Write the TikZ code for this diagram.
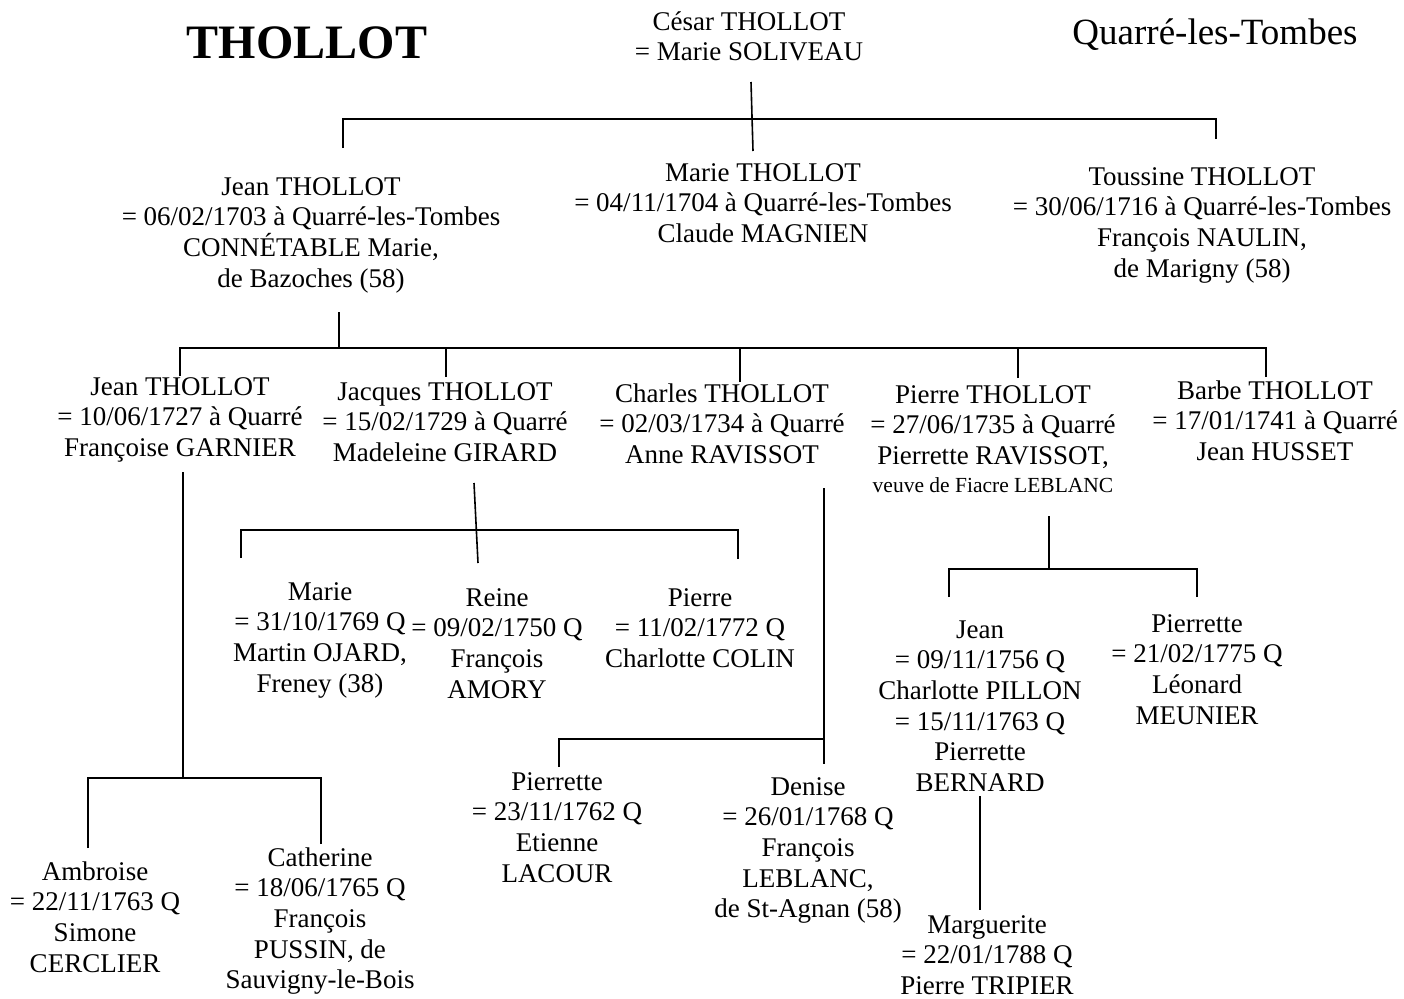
\documentclass[tikz,border=0pt]{standalone}
\usepackage{fontspec}
\setmainfont{Liberation Serif}
\usetikzlibrary{calc}
\tikzset{
    % persons (placed at the baseline of their last line)
    person/.style={anchor=base, align=center, inner sep=0pt,
                   font=\fontsize{27}{30.7}\selectfont},
    % header
    titletext/.style={anchor=base, inner sep=0pt, font=\fontsize{48}{50}\selectfont\bfseries},
    placetext/.style={anchor=base, inner sep=0pt, font=\fontsize{37}{40}\selectfont},
    % lines of descent
    link/.style={line width=1.6pt},
}
\newcommand{\smallnote}[1]{{\fontsize{21.5}{26}\selectfont #1}}

\begin{document}
\begin{tikzpicture}[x=1pt,y=-1pt]
\useasboundingbox (0,0) rectangle (1404,998);

\node[titletext] (title) at (307,59) {THOLLOT};
\node[placetext] (place) at (1215,45) {Quarré-les-Tombes};

\node[person] (cesar) at (749,60.7) {César THOLLOT\\= Marie SOLIVEAU};

% second generation
\node[person] (jean1)    at (311,287.1)  {Jean THOLLOT\\= 06/02/1703 à Quarré-les-Tombes\\CONNÉTABLE Marie,\\de Bazoches (58)};
\node[person] (marie1)   at (763,242.4)  {Marie THOLLOT\\= 04/11/1704 à Quarré-les-Tombes\\Claude MAGNIEN};
\node[person] (toussine) at (1202,277.1) {Toussine THOLLOT\\= 30/06/1716 à Quarré-les-Tombes\\François NAULIN,\\de Marigny (58)};

% third generation
\node[person] (jean2)   at (180,456.4)  {Jean THOLLOT\\= 10/06/1727 à Quarré\\Françoise GARNIER};
\node[person] (jacques) at (445,461.4)  {Jacques THOLLOT\\= 15/02/1729 à Quarré\\Madeleine GIRARD};
\node[person] (charles) at (722,463.4)  {Charles THOLLOT\\= 02/03/1734 à Quarré\\Anne RAVISSOT};
\node[person] (pierre1) at (993,492.4)  {Pierre THOLLOT\\= 27/06/1735 à Quarré\\Pierrette RAVISSOT,\\[-2.7pt]\smallnote{veuve de Fiacre LEBLANC}};
\node[person] (barbe)   at (1275,460.4) {Barbe THOLLOT\\= 17/01/1741 à Quarré\\Jean HUSSET};

% children of Jacques
\node[person] (marie2)  at (320,692.1) {Marie\\= 31/10/1769 Q\\Martin OJARD,\\Freney (38)};
\node[person] (reine)   at (497,698.1) {Reine\\= 09/02/1750 Q\\François\\AMORY};
\node[person] (pierre2) at (700,667.4) {Pierre\\= 11/02/1772 Q\\Charlotte COLIN};

% children of Charles
\node[person] (pierrette1) at (557,882.1) {Pierrette\\= 23/11/1762 Q\\Etienne\\LACOUR};
\node[person] (denise)     at (808,917.8) {Denise\\= 26/01/1768 Q\\François\\LEBLANC,\\de St-Agnan (58)};

% children of Pierre
\node[person] (jean3)      at (980,791.5)  {Jean\\= 09/11/1756 Q\\Charlotte PILLON\\= 15/11/1763 Q\\Pierrette\\BERNARD};
\node[person] (pierrette2) at (1197,724.1) {Pierrette\\= 21/02/1775 Q\\Léonard\\MEUNIER};
\node[person] (marguerite) at (987,994.5)  {Marguerite\\= 22/01/1788 Q\\Pierre TRIPIER};

% children of Jean
\node[person] (ambroise)  at (95,972.1)  {Ambroise\\= 22/11/1763 Q\\Simone\\CERCLIER};
\node[person] (catherine) at (320,988.8) {Catherine\\= 18/06/1765 Q\\François\\PUSSIN, de\\Sauvigny-le-Bois};

% César -> Jean, Marie, Toussine
\coordinate (c0) at (751,82);
\coordinate (c0b) at (752,119);
\coordinate (c0e) at (753,151);
\coordinate (t0a) at (343,148);
\coordinate (t0b) at (1216,139);
\draw[link] (c0) -- (c0e);
\draw[link] (t0a) |- (c0b);
\draw[link] (t0b) |- (c0b);

% Jean -> five children
\coordinate (c1) at (339,312);
\coordinate (c1b) at (339,348);
\coordinate (t1a) at (180,376);
\coordinate (t1b) at (446,377);
\coordinate (t1c) at (740,382);
\coordinate (t1d) at (1018,378);
\coordinate (t1e) at (1266,377);
\draw[link] (c1) -- (c1b);
\foreach \t in {t1a,t1b,t1c,t1d,t1e}
    \draw[link] (\t) |- (c1b);

% Jean (1727) -> Ambroise, Catherine
\coordinate (c2) at (183,472);
\coordinate (c2b) at (183,778);
\coordinate (t2a) at (88,848);
\coordinate (t2b) at (321,844);
\draw[link] (c2) -- (c2b);
\draw[link] (t2a) |- (c2b);
\draw[link] (t2b) |- (c2b);

% Jacques -> Marie, Reine, Pierre
\coordinate (c3) at (474,483);
\coordinate (c3b) at (476,530);
\coordinate (c3e) at (478,563);
\coordinate (t3a) at (241,558);
\coordinate (t3b) at (738,559);
\draw[link] (c3) -- (c3e);
\draw[link] (t3a) |- (c3b);
\draw[link] (t3b) |- (c3b);

% Charles -> Pierrette, Denise
\coordinate (c4) at (824,488);
\coordinate (c4b) at (824,739);
\coordinate (c4e) at (824,764);
\coordinate (t4a) at (559,767);
\draw[link] (c4) -- (c4e);
\draw[link] (t4a) |- (c4b);

% Pierre -> Jean, Pierrette
\coordinate (c5) at (1049,516);
\coordinate (c5b) at (1049,569);
\coordinate (t5a) at (949,597);
\coordinate (t5b) at (1197,597);
\draw[link] (c5) -- (c5b);
\draw[link] (t5a) |- (c5b);
\draw[link] (t5b) |- (c5b);

% Jean (1756) -> Marguerite
\coordinate (c6) at (980,796);
\coordinate (c6e) at (980,910);
\draw[link] (c6) -- (c6e);
\end{tikzpicture}
\end{document}
